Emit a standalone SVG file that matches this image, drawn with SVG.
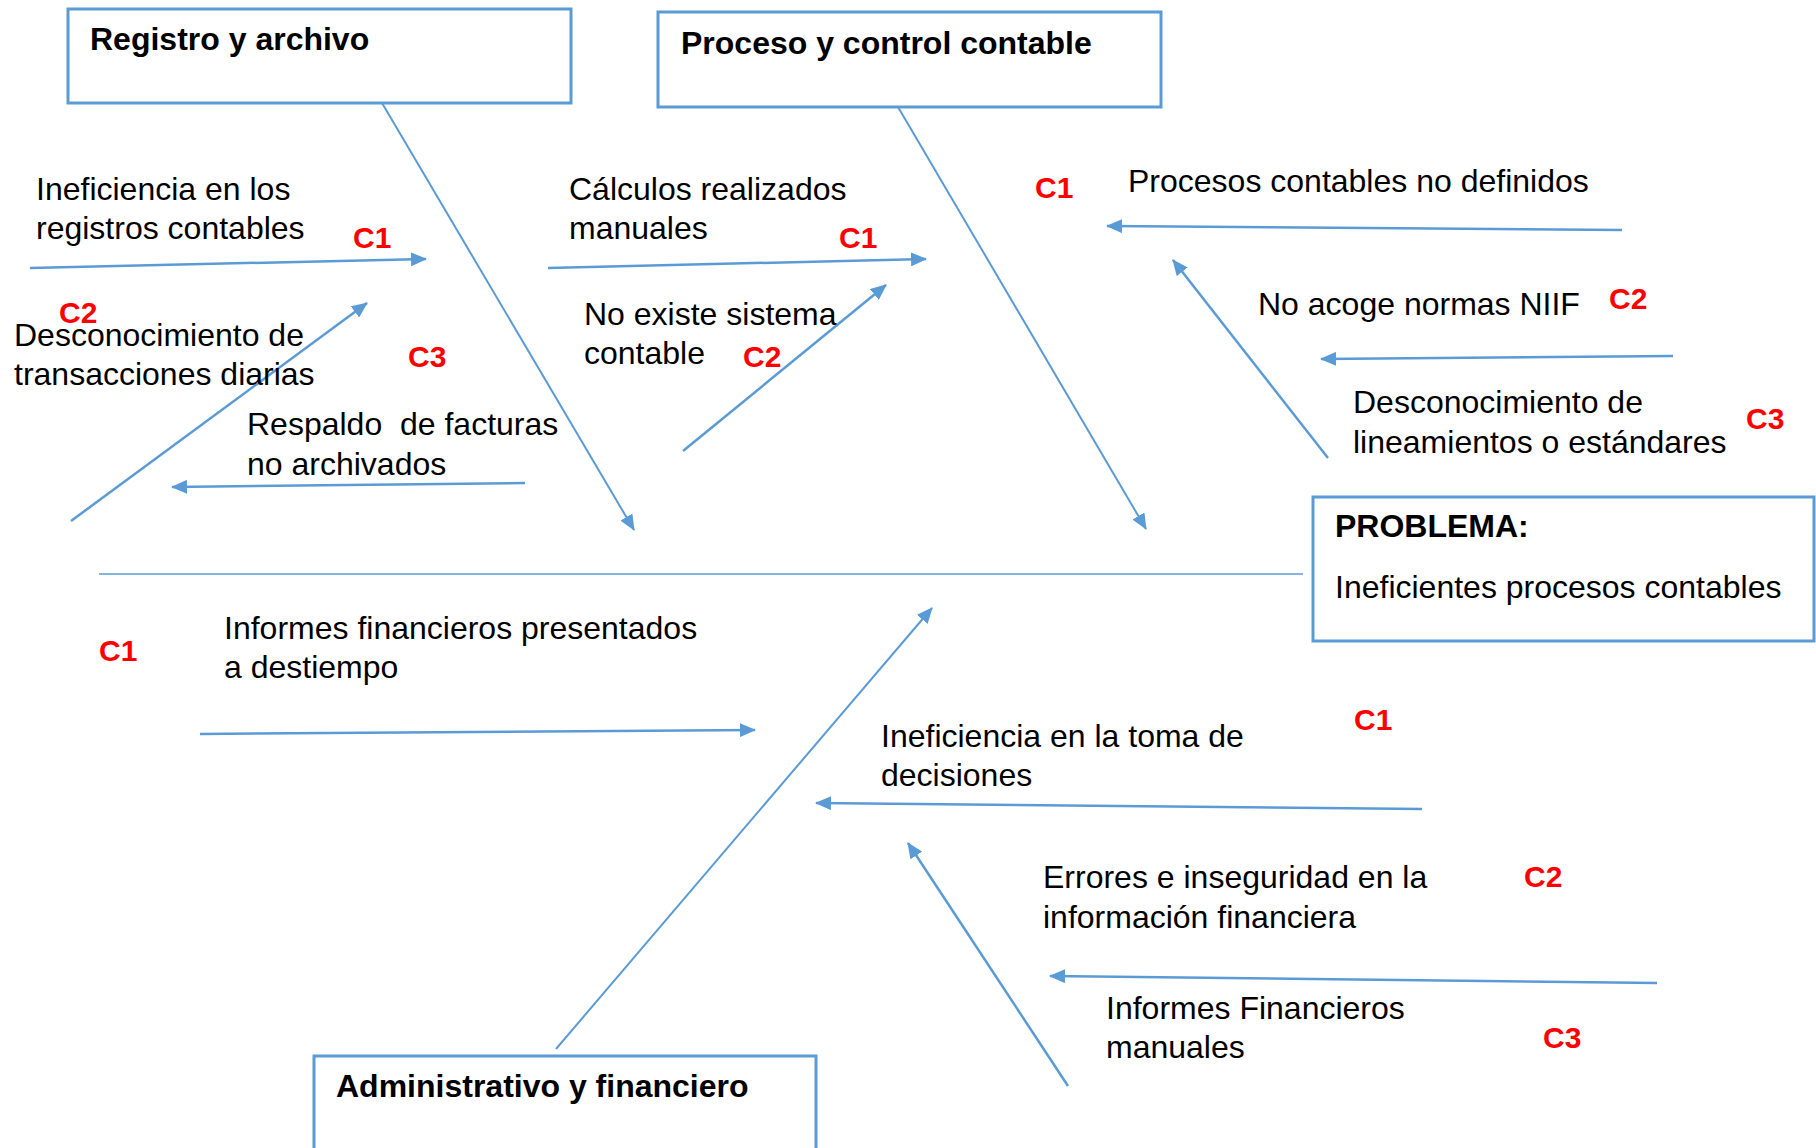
<svg xmlns="http://www.w3.org/2000/svg" width="1816" height="1148" viewBox="0 0 1816 1148">
<defs>
<style>
.box{fill:#fff;stroke:#5B9BD5;stroke-width:3}
.ttl{font-family:"Liberation Sans",Arial,sans-serif;font-weight:bold;font-size:32px;fill:#000}
.t{font-family:"Liberation Sans",Arial,sans-serif;font-size:32px;fill:#000;white-space:pre}
.c{font-family:"Liberation Sans",Arial,sans-serif;font-weight:bold;font-size:30px;fill:#FF0000}
.ar{stroke:#5B9BD5;stroke-width:2.5;fill:none;marker-end:url(#ah)}
.dg{stroke:#5B9BD5;stroke-width:2;fill:none;marker-end:url(#ah)}
.sp{stroke:#5B9BD5;stroke-width:1.5}
</style>
<marker id="ah" markerUnits="userSpaceOnUse" markerWidth="16" markerHeight="14" refX="15" refY="7" orient="auto">
<path d="M0,0 L16,7 L0,14 z" fill="#5B9BD5"/>
</marker>
</defs>
<rect width="1816" height="1148" fill="#fff"/>

<g id="connectors">
<line class="sp" x1="99" y1="574" x2="1303" y2="574"/>
<line class="dg" x1="382" y1="103" x2="634" y2="530"/>
<line class="dg" x1="898" y1="107" x2="1146" y2="529"/>
<line class="dg" x1="556" y1="1049" x2="932" y2="608"/>
<line class="ar" x1="30" y1="268" x2="426" y2="259"/>
<line class="ar" x1="71" y1="521" x2="367" y2="303"/>
<line class="ar" x1="525" y1="483" x2="172" y2="487"/>
<line class="ar" x1="548" y1="268" x2="926" y2="259"/>
<line class="ar" x1="683" y1="451" x2="886" y2="285"/>
<line class="ar" x1="1622" y1="230" x2="1107" y2="226"/>
<line class="ar" x1="1328" y1="458" x2="1173" y2="260"/>
<line class="ar" x1="1673" y1="356" x2="1321" y2="359"/>
<line class="ar" x1="200" y1="734" x2="755" y2="730"/>
<line class="ar" x1="1422" y1="809" x2="816" y2="803"/>
<line class="ar" x1="1068" y1="1086" x2="908" y2="843"/>
<line class="ar" x1="1657" y1="983" x2="1050" y2="976"/>
</g>

<g id="registro">
<rect class="box" x="68" y="9" width="503" height="94"/>
<text class="ttl" x="90" y="50">Registro y archivo</text>
</g>
<g id="proceso">
<rect class="box" x="658" y="12" width="503" height="95"/>
<text class="ttl" x="681" y="54">Proceso y control contable</text>
</g>
<g id="administrativo">
<rect class="box" x="314" y="1056" width="502" height="130"/>
<text class="ttl" x="336" y="1097">Administrativo y financiero</text>
</g>
<g id="problema">
<rect class="box" x="1313" y="497" width="501" height="144"/>
<text class="ttl" x="1335" y="537">PROBLEMA:</text>
<text class="t" x="1335" y="598">Ineficientes procesos contables</text>
</g>

<g id="cause-ineficiencia-registros">
<text class="t" x="36" y="200">Ineficiencia en los</text>
<text class="t" x="36" y="239">registros contables</text>
<text class="c" x="353" y="248">C1</text>
</g>
<g id="cause-desconocimiento-transacciones">
<text class="t" x="14" y="346">Desconocimiento de</text>
<text class="t" x="14" y="385">transacciones diarias</text>
<text class="c" x="59" y="323">C2</text>
</g>
<g id="cause-respaldo-facturas">
<text class="t" x="247" y="435">Respaldo  de facturas</text>
<text class="t" x="247" y="475">no archivados</text>
<text class="c" x="408" y="367">C3</text>
</g>
<g id="cause-calculos">
<text class="t" x="569" y="200">Cálculos realizados</text>
<text class="t" x="569" y="239">manuales</text>
<text class="c" x="839" y="248">C1</text>
</g>
<g id="cause-sistema">
<text class="t" x="584" y="325">No existe sistema</text>
<text class="t" x="584" y="364">contable</text>
<text class="c" x="743" y="367">C2</text>
</g>
<g id="cause-procesos-no-definidos">
<text class="t" x="1128" y="192">Procesos contables no definidos</text>
<text class="c" x="1035" y="198">C1</text>
</g>
<g id="cause-niif">
<text class="t" x="1258" y="315">No acoge normas NIIF</text>
<text class="c" x="1609" y="309">C2</text>
</g>
<g id="cause-lineamientos">
<text class="t" x="1353" y="413">Desconocimiento de</text>
<text class="t" x="1353" y="453">lineamientos o estándares</text>
<text class="c" x="1746" y="429">C3</text>
</g>
<g id="cause-informes-destiempo">
<text class="t" x="224" y="639">Informes financieros presentados</text>
<text class="t" x="224" y="678">a destiempo</text>
<text class="c" x="99" y="661">C1</text>
</g>
<g id="cause-toma-decisiones">
<text class="t" x="881" y="747">Ineficiencia en la toma de</text>
<text class="t" x="881" y="786">decisiones</text>
<text class="c" x="1354" y="730">C1</text>
</g>
<g id="cause-errores">
<text class="t" x="1043" y="888">Errores e inseguridad en la</text>
<text class="t" x="1043" y="928">información financiera</text>
<text class="c" x="1524" y="887">C2</text>
</g>
<g id="cause-informes-manuales">
<text class="t" x="1106" y="1019">Informes Financieros</text>
<text class="t" x="1106" y="1058">manuales</text>
<text class="c" x="1543" y="1048">C3</text>
</g>
</svg>
